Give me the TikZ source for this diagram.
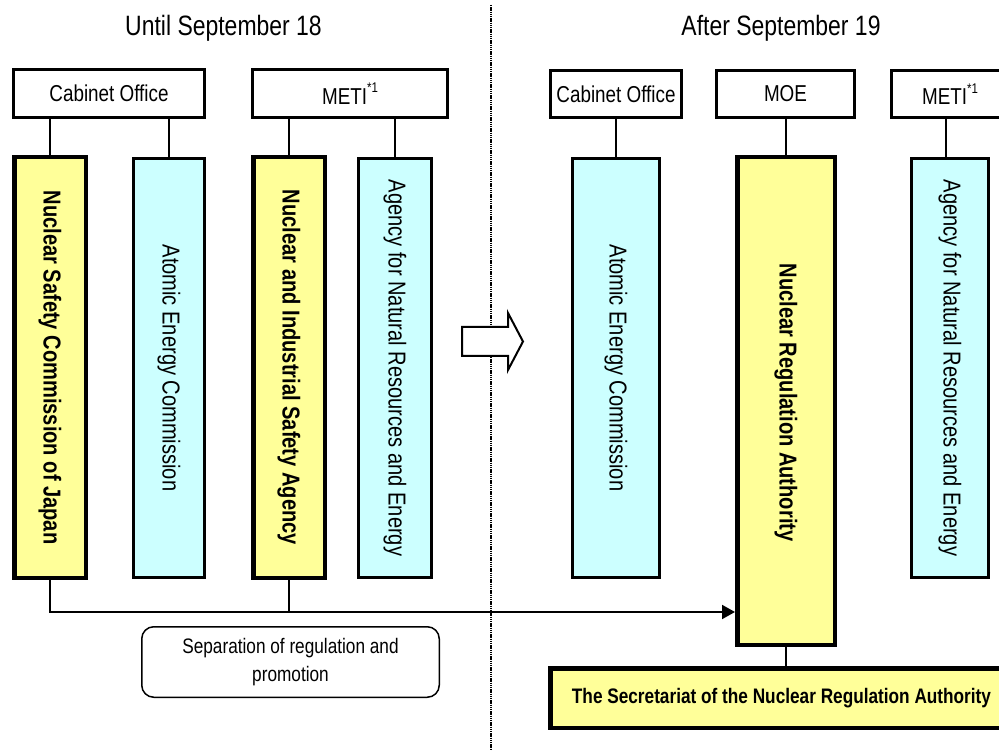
\documentclass[tikz,border=0pt]{standalone}
\usepackage{fontspec}
\setmainfont{Liberation Sans}[FakeStretch=0.82]
\usetikzlibrary{arrows.meta}
\definecolor{ylw}{HTML}{FFFF99}
\definecolor{cyn}{HTML}{CCFFFF}
\begin{document}
\begin{tikzpicture}[x=1pt,y=-1pt,
  title/.style={anchor=base, font=\fontsize{28}{32}\selectfont},
  hdr/.style={draw, line width=3pt, fill=white, inner sep=0pt, font=\fontsize{23}{28}\selectfont},
  ybox/.style={draw, line width=4.5pt, fill=ylw, inner sep=0pt},
  cbox/.style={draw, line width=3pt, fill=cyn, inner sep=0pt},
  vtext/.style={rotate=-90, inner sep=0pt, font=\fontsize{24.5}{28}\selectfont},
  vbold/.style={rotate=-90, inner sep=0pt, font=\fontsize{24.5}{28}\selectfont\bfseries},
  conn/.style={line width=1.5pt}]
\useasboundingbox (0,0) rectangle (999,751);
\clip (0,0) rectangle (999,751);
\newcommand{\supone}{\raisebox{0.5em}{\fontsize{14}{14}\selectfont *1}}

% divider
\coordinate (dtop) at (491,5);
\coordinate (dbot) at (491,751);
\draw[line width=2.4pt, dash pattern=on 1.4pt off 0.8pt] (dtop) -- (dbot);

% titles
\node[title] (t1) at (223.5,36) {Until September 18};
\node[title] (t2) at (781,36) {After September 19};

% header boxes
\node[hdr, minimum width=191pt, minimum height=48pt] (cab1) at (109,93.5) {Cabinet Office};
\node[hdr, minimum width=195pt, minimum height=48pt] (meti1) at (350,93.5) {METI\supone};
\node[hdr, minimum width=131pt, minimum height=47pt] (cab2) at (616,94) {Cabinet Office};
\node[hdr, minimum width=138pt, minimum height=47pt] (moe) at (785.5,94) {MOE};
\node[hdr, minimum width=117pt, minimum height=47pt] (meti2) at (950,94) {METI\supone};

% tall boxes left
\node[ybox, minimum width=71.5pt, minimum height=420.5pt] (ysc) at (50,367.5) {};
\node[cbox, minimum width=71pt, minimum height=419pt] (aec1) at (169,368) {};
\node[ybox, minimum width=71.5pt, minimum height=420.5pt] (nisa) at (289,367.5) {};
\node[cbox, minimum width=73pt, minimum height=419pt] (anre1) at (395,368) {};

% tall boxes right
\node[cbox, minimum width=87pt, minimum height=419pt] (aec2) at (616,368) {};
\node[ybox, minimum width=97.5pt, minimum height=487.5pt] (nra) at (786,401) {};
\node[cbox, minimum width=77pt, minimum height=419pt] (anre2) at (950,368) {};

% vertical texts
\node[vbold] (tysc) at (ysc) {Nuclear Safety Commission of Japan};
\node[vtext] (taec1) at (aec1) {Atomic Energy Commission};
\node[vbold] (tnisa) at (nisa) {Nuclear and Industrial Safety Agency};
\node[vtext] (tanre1) at (anre1) {Agency for Natural Resources and Energy};
\node[vtext] (taec2) at (aec2) {Atomic Energy Commission};
\node[vbold] (tnra) at (786,402.5) {Nuclear Regulation Authority};
\node[vtext] (tanre2) at (anre2) {Agency for Natural Resources and Energy};

% secretariat
\node[ybox, minimum width=462.5pt, minimum height=59.5pt, font=\fontsize{21}{26}\selectfont\bfseries] (sec) at (781.5,698) {The Secretariat of the Nuclear Regulation Authority};

% separation box
\node[draw, line width=1.5pt, rounded corners=12pt, minimum width=297.5pt, minimum height=70.5pt, inner sep=0pt, align=center, font=\fontsize{21}{28}\selectfont] (sep) at (290.5,662) {Separation of regulation and\\promotion};

% connectors
\draw[conn] (cab1.south -| ysc.north) -- (ysc.north);
\draw[conn] (cab1.south -| aec1.north) -- (aec1.north);
\draw[conn] (meti1.south -| nisa.north) -- (nisa.north);
\draw[conn] (meti1.south -| anre1.north) -- (anre1.north);
\draw[conn] (cab2.south) -- (aec2.north);
\draw[conn] (moe.south -| nra.north) -- (nra.north);
\draw[conn] ([xshift=-4pt]meti2.south) -- ([xshift=-4pt]anre2.north);
\draw[conn] (nra.south) -- (sec.north -| nra.south);

\coordinate (aend) at (735,612);
\draw[line width=2pt, -{Triangle[length=13pt, width=14pt]}] (ysc.south) |- (aend);
\draw[conn] (nisa.south) -- (nisa.south |- aend);

% block arrow
\draw[line width=2pt, fill=white, line join=miter] (462,327) -- (508,327) -- (508,313) -- (523,341.5) -- (508,370) -- (508,356) -- (462,356) -- cycle;
\end{tikzpicture}
\end{document}
